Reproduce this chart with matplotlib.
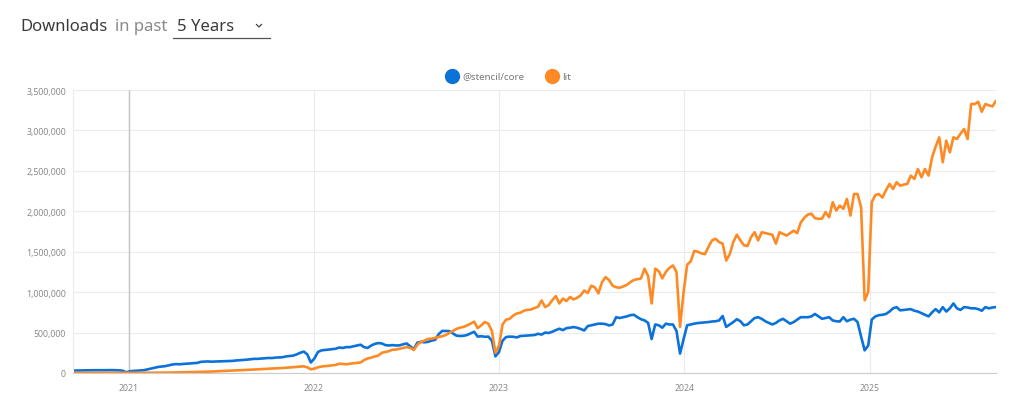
import matplotlib
matplotlib.use("Agg")
import matplotlib.pyplot as plt
import matplotlib.dates as mdates
from matplotlib.lines import Line2D
from matplotlib.ticker import FuncFormatter, MultipleLocator
import pandas as pd

plt.rcParams['font.family'] = ['Noto Sans', 'DejaVu Sans']

# weekly downloads, thousands
stencil_core = [
    # 2020 (from mid Sep)
    30, 31, 32, 33, 33, 34, 34, 35, 34, 35, 35, 36, 34, 33, 28, 8,
    # 2021
    22, 25, 28, 30, 35, 45, 55, 65, 75, 80,
    85, 95, 105, 110, 108, 112, 115, 118, 120, 125,
    138, 140, 143, 140, 142, 144, 145, 146, 148, 150,
    155, 158, 160, 165, 170, 175, 175, 178, 182, 186,
    185, 190, 192, 195, 205, 210, 215, 230, 250, 265,
    230, 130,
    # 2022
    180, 260, 280, 285, 290, 295, 300, 315, 310, 320,
    320, 330, 340, 350, 320, 310, 340, 360, 370, 365,
    345, 340, 345, 340, 342, 355, 365, 330, 295, 375,
    385, 380, 385, 400, 410, 480, 520, 520, 518, 490,
    462, 458, 460, 470, 490, 510, 450, 455, 448, 450,
    400, 205,
    # 2023
    260, 400, 445, 450, 448, 440, 457, 460, 462, 465,
    470, 485, 475, 500, 495, 510, 530, 548, 530, 555,
    560, 568, 560, 545, 526, 580, 590, 600, 610, 610,
    605, 588, 600, 690, 680, 690, 700, 715, 720, 690,
    665, 650, 620, 420, 600, 590, 560, 610, 600, 600,
    520, 240,
    # 2024
    420, 590, 600, 610, 618, 622, 625, 630, 637, 640,
    650, 705, 570, 600, 630, 665, 640, 590, 600, 640,
    680, 690, 670, 640, 620, 600, 620, 650, 670, 640,
    610, 630, 660, 690, 690, 690, 700, 730, 700, 670,
    680, 690, 650, 640, 637, 690, 640, 660, 670, 630,
    450, 280, 340,
    # 2025
    660, 700, 715, 720, 730, 760, 800, 815, 775, 780,
    785, 790, 770, 760, 740, 720, 700, 750, 790, 750,
    815, 760, 800, 860, 800, 780, 815, 810, 800, 800,
    790, 770, 815, 800, 810, 815,
]

lit = [
    # 2020 (from mid Sep)
    2, 2, 2, 2, 2, 2, 2, 2, 2, 2, 2, 2, 2, 2, 2, 1,
    # 2021
    2, 2, 2, 3, 3, 3, 3, 4, 4, 4,
    5, 5, 6, 6, 7, 8, 9, 10, 11, 12,
    13, 14, 16, 18, 20, 22, 24, 26, 28, 30,
    32, 34, 36, 38, 40, 42, 45, 48, 50, 53,
    55, 57, 60, 62, 65, 67, 70, 75, 80, 82,
    70, 45,
    # 2022
    55, 70, 80, 85, 90, 94, 100, 115, 112, 108,
    115, 120, 125, 130, 160, 180, 190, 205, 215, 250,
    260, 270, 288, 290, 300, 310, 320, 310, 285, 350,
    385, 400, 420, 425, 435, 445, 455, 470, 495, 520,
    545, 560, 570, 588, 610, 635, 555, 590, 630, 610,
    520, 250,
    # 2023
    340, 600, 660, 670, 710, 735, 745, 770, 780, 785,
    803, 820, 897, 815, 840, 900, 951, 860, 920, 890,
    940, 910, 930, 960, 1020, 990, 1080, 1060, 985, 1120,
    1186, 1150, 1080, 1060, 1055, 1070, 1090, 1124, 1150, 1160,
    1170, 1290, 1200, 860, 1290, 1260, 1170, 1250, 1300, 1330,
    1250, 570,
    # 2024
    1000, 1340, 1380, 1510, 1500, 1480, 1470, 1560, 1640, 1660,
    1620, 1600, 1391, 1470, 1620, 1710, 1640, 1580, 1570, 1680,
    1741, 1640, 1741, 1730, 1720, 1710, 1600, 1741, 1720, 1700,
    1730, 1760, 1730, 1860, 1920, 1960, 1970, 1915, 1906, 1910,
    1990, 1926, 2112, 2010, 2070, 2030, 2153, 1947, 2214, 2214,
    2050, 900, 1000,
    # 2025
    2112, 2200, 2214, 2170, 2260, 2338, 2276, 2359, 2317, 2330,
    2338, 2441, 2400, 2523, 2420, 2523, 2441, 2668, 2800, 2914,
    2606, 2873, 2729, 2914, 2894, 2960, 3017, 2894, 3326, 3326,
    3354, 3231, 3326, 3310, 3297, 3367,
]

series_names = ['@stencil/core', 'lit']
series_colors = ['#0b72d9', '#fd8a25']
year_ticks = ['2021', '2022', '2023', '2024', '2025']

assert len(stencil_core) == len(lit)
weeks = pd.date_range('2020-09-13', periods=len(lit), freq='7D')

fig = plt.figure(figsize=(10.24, 4.06), dpi=100)
ax = fig.add_axes([73 / 1024, 1 - 374 / 406, 923 / 1024, 283 / 406])

for vals, name, col in zip([stencil_core, lit], series_names, series_colors):
    ax.plot(weeks, [v * 1000 for v in vals], color=col, lw=1.9,
            solid_joinstyle='round', solid_capstyle='round', label=name)

ax.set_xlim(weeks[0], weeks[-1])
ax.set_ylim(0, 3_500_000)
ax.yaxis.set_major_locator(MultipleLocator(500_000))
ax.yaxis.set_major_formatter(FuncFormatter(lambda v, p: f'{int(v):,}'))
ax.set_xticks([pd.Timestamp(f'{y}-01-01') for y in year_ticks])
ax.xaxis.set_major_formatter(mdates.DateFormatter('%Y'))

ax.grid(True, color='#ebebeb', lw=0.8)
ax.set_axisbelow(True)
ax.axvline(pd.Timestamp('2021-01-01'), color='#c4c4c4', lw=1.0, zorder=1)
for s in ['top', 'right']:
    ax.spines[s].set_visible(False)
ax.spines['left'].set_color('#ebebeb')
ax.spines['bottom'].set_color('#cccccc')
ax.tick_params(axis='both', length=0, labelsize=6.3, labelcolor='#8a8a8a')
ax.tick_params(axis='y', pad=5)
ax.tick_params(axis='x', pad=7)

# header
hy = 1 - 27 / 406
fig.text(20 / 1024, hy, 'Downloads', fontsize=12, color='#3a3a3a', va='center')
fig.text(115 / 1024, hy, 'in past', fontsize=12, color='#8a8a8a', va='center')
fig.text(177 / 1024, hy, '5 Years', fontsize=12, color='#3a3a3a', va='center')
fig.add_artist(Line2D([256.5 / 1024, 259 / 1024, 261.5 / 1024],
                      [1 - 25.5 / 406, 1 - 28 / 406, 1 - 25.5 / 406],
                      transform=fig.transFigure, color='#444444', lw=0.9))
fig.add_artist(Line2D([173 / 1024, 270 / 1024], [1 - 38.5 / 406] * 2,
                      transform=fig.transFigure, color='#555555', lw=0.9))

# legend
leg_y = 1 - 77 / 406
for lx, tx, name, col in [(452, 462, series_names[0], series_colors[0]),
                          (552, 562, series_names[1], series_colors[1])]:
    fig.add_artist(Line2D([lx / 1024], [leg_y], marker='o', markersize=10,
                          color=col, transform=fig.transFigure))
    fig.text(tx / 1024, leg_y, name, fontsize=7, color='#777777', va='center')

fig.savefig('out.png', dpi=100)
